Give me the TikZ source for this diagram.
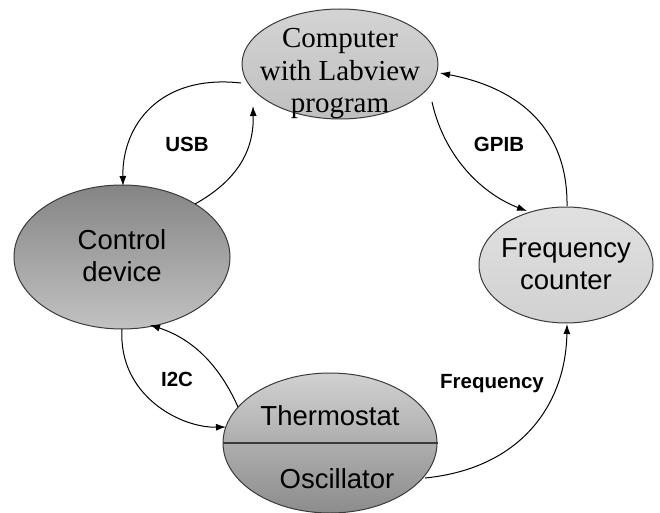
\documentclass[tikz,border=0pt]{standalone}
\usepackage{fontspec}
\setmainfont{Liberation Sans}
\newfontfamily\serifF{Liberation Serif}
\usetikzlibrary{shapes.geometric,arrows.meta}
\definecolor{edgegray}{HTML}{3A3A3A}
\tikzset{
  blob/.style={ellipse, draw=edgegray, line width=1pt, inner sep=0pt},
  bigtext/.style={font=\fontsize{27.5}{32}\selectfont, align=center, inner sep=0pt},
  lbl/.style={font=\fontsize{20.5}{22}\selectfont\bfseries, inner sep=0pt},
  conn/.style={line width=1pt, -{Latex[length=10pt,width=7pt]}},
}
\begin{document}
\begin{tikzpicture}[x=1pt,y=-1pt]
\useasboundingbox (0,0) rectangle (660,513);
% nodes
\node[blob, minimum width=196pt, minimum height=110pt, top color=white!83!black, bottom color=white!75!black] (comp) at (340,64) {};
\node[bigtext, font=\fontsize{29}{32.5}\selectfont\serifF] (comptext) at (340,74) {Computer\\with Labview\\program};

\node[blob, minimum width=216pt, minimum height=144pt, top color=white!52!black, bottom color=white!76!black] (ctrl) at (122,257) {};
\node[bigtext] (ctrltext) at (122,256) {Control\\device};

\node[blob, minimum width=174pt, minimum height=116pt, top color=white!88!black, bottom color=white!82!black] (freq) at (566,265) {};
\node[bigtext] (freqtext) at (566,264) {Frequency\\counter};

\node[blob, minimum width=214pt, minimum height=140pt, top color=white!82!black, bottom color=white!55!black, middle color=white!68!black] (osc) at (330,443) {};
\draw[edgegray, line width=1.6pt] (osc.west) -- (osc.east);
\node[bigtext] (thermtext) at (330,416) {Thermostat};
\node[bigtext] (osctext) at (337,479) {Oscillator};

% connector end points
\coordinate (usbA) at (241,83);
\coordinate (usbB) at (123,186);
\coordinate (usbC) at (195,204);
\coordinate (usbD) at (253,106);
\coordinate (gpA) at (432,102);
\coordinate (gpB) at (527,211);
\coordinate (gpC) at (567,206);
\coordinate (gpD) at (440,73);
\coordinate (icA) at (122,329);
\coordinate (icB) at (226,427);
\coordinate (icC) at (238,407);
\coordinate (icD) at (150,325);
\coordinate (frA) at (425,478);
\coordinate (frB) at (567,324);

% connectors
\draw[conn] (usbA) .. controls (160,74) and (122,125) .. (usbB);
\draw[conn] (usbC) .. controls (238,180) and (254,150) .. (usbD);
\draw[conn] (gpA) .. controls (445,160) and (485,195) .. (gpB);
\draw[conn] (gpC) .. controls (568,130) and (520,88) .. (gpD);
\draw[conn] (icA) .. controls (118,395) and (180,428) .. (icB);
\draw[conn] (icC) .. controls (218,362) and (190,338) .. (icD);
\draw[conn] (frA) .. controls (525,468) and (566,400) .. (frB);

% labels
\node[lbl] (usb) at (187,144) {USB};
\node[lbl] (gpib) at (499,144) {GPIB};
\node[lbl] (i2c) at (177,379) {I2C};
\node[lbl] (freqlbl) at (492,384) {Frequency};
\end{tikzpicture}
\end{document}
